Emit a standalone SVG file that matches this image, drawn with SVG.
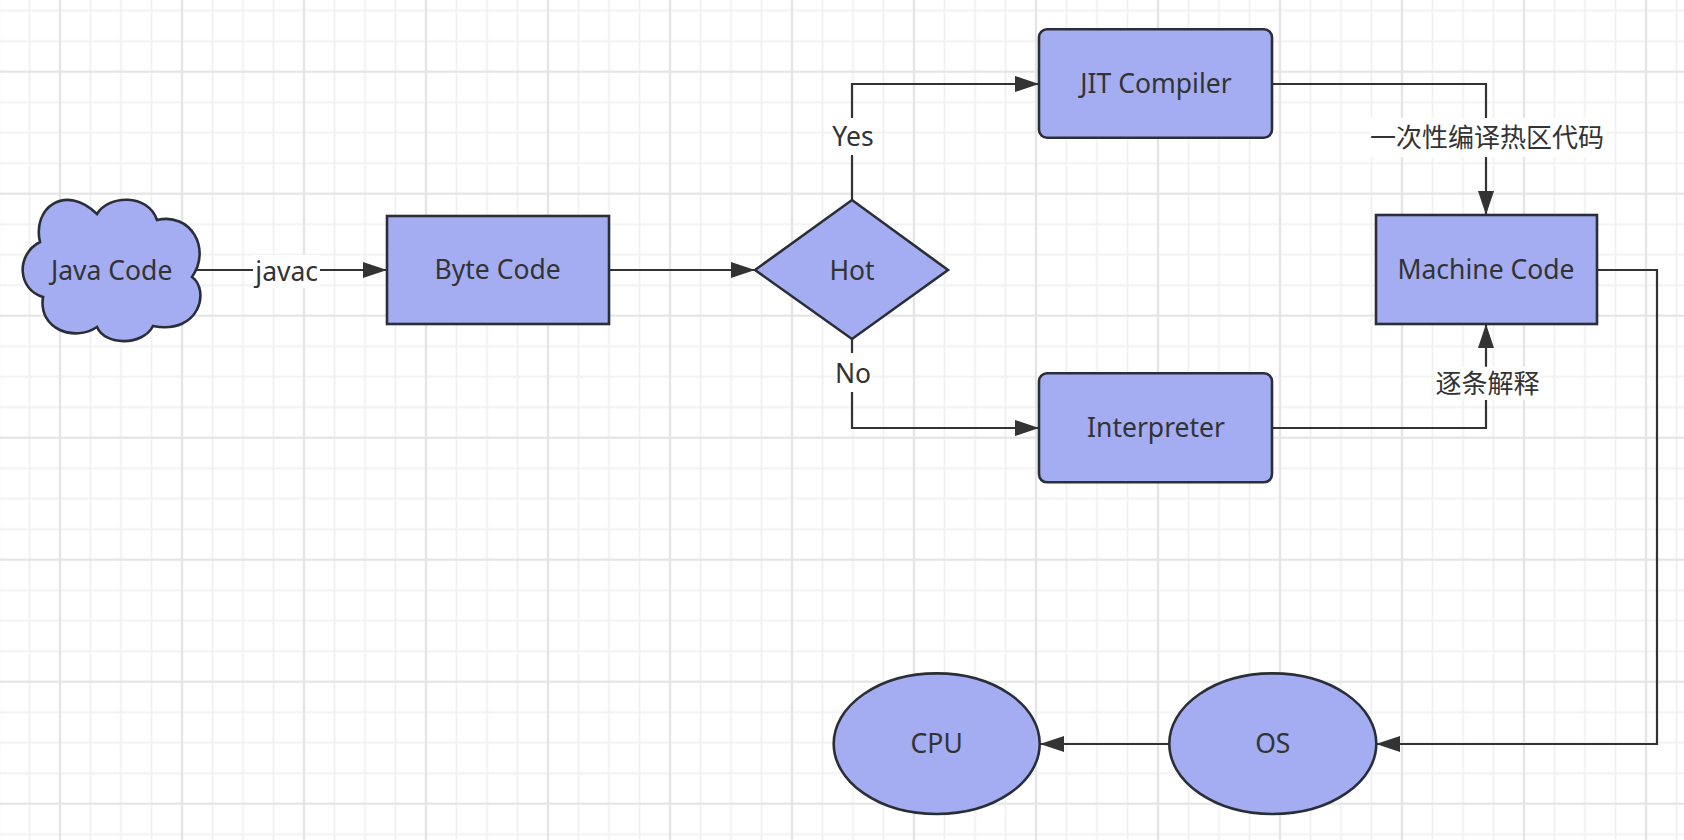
<svg xmlns="http://www.w3.org/2000/svg" width="1684" height="840" viewBox="0 0 1684 840">
  <defs>
    <!-- light grid: fine cells with a stronger line every fourth cell -->
    <pattern id="gridMinor" patternUnits="userSpaceOnUse" x="44.75" y="56.45" width="30.5" height="30.5">
      <line x1="15.25" y1="0" x2="15.25" y2="30.5" stroke="#f1f1f1" stroke-width="1.8"/>
      <line x1="0" y1="15.25" x2="30.5" y2="15.25" stroke="#f1f1f1" stroke-width="1.8"/>
    </pattern>
    <pattern id="gridMajor" patternUnits="userSpaceOnUse" x="-1" y="10.7" width="122" height="122">
      <line x1="61" y1="0" x2="61" y2="122" stroke="#e5e5e5" stroke-width="2.2"/>
      <line x1="0" y1="61" x2="122" y2="61" stroke="#e5e5e5" stroke-width="2.2"/>
    </pattern>
    <marker id="arrow" markerUnits="userSpaceOnUse" markerWidth="26" markerHeight="18" refX="24" refY="8" orient="auto">
      <path d="M0,0 L24,8 L0,16 Z" fill="#333333"/>
    </marker>
    <style>
      .shape { fill: #a4adf2; stroke: #2a2e36; stroke-width: 2.6; }
      .label { font-family: "Noto Sans", "Open Sans", "Noto Sans CJK SC", sans-serif; font-size: 26.5px; fill: #333333; text-anchor: middle; }
      .cjk { font-family: "Noto Sans CJK SC", "Noto Sans", sans-serif; font-size: 26px; fill: #333333; text-anchor: middle; }
      .edge { fill: none; stroke: #333333; stroke-width: 2.2; marker-end: url(#arrow); }
      .tag { fill: #ffffff; }
    </style>
  </defs>

  <rect x="0" y="0" width="1684" height="840" fill="#ffffff"/>
  <rect x="0" y="0" width="1684" height="840" fill="url(#gridMinor)"/>
  <rect x="0" y="0" width="1684" height="840" fill="url(#gridMajor)"/>

  <!-- connectors -->
  <g id="connectors">
    <path class="edge" d="M197,270 L387,270"/>
    <path class="edge" d="M609,270 L755,270"/>
    <path class="edge" d="M852,200 L852,84 L1039,84"/>
    <path class="edge" d="M852,339 L852,428 L1039,428"/>
    <path class="edge" d="M1272,84 L1486,84 L1486,215"/>
    <path class="edge" d="M1272,428 L1486,428 L1486,324"/>
    <path class="edge" d="M1597,270 L1657,270 L1657,744 L1376,744"/>
    <path class="edge" d="M1169,744 L1040,744"/>

    <rect class="tag" x="253" y="255" width="67" height="33"/>
    <text class="label" x="286.7" y="280.5">javac</text>

    <rect class="tag" x="833" y="118" width="40" height="37"/>
    <text class="label" x="853" y="145.7">Yes</text>

    <rect class="tag" x="836" y="353" width="36" height="39"/>
    <text class="label" x="853" y="383.3">No</text>

    <rect class="tag" x="1370" y="118" width="235" height="39"/>
    <text class="cjk" x="1487" y="147">一次性编译热区代码</text>

    <rect class="tag" x="1435" y="366.7" width="105" height="33.3"/>
    <text class="cjk" x="1487.5" y="393">逐条解释</text>
  </g>

  <g id="java-code">
    <path class="shape" d="M40,242 C32,208 65,183 97,214 C108,195 148,193 157,220 C190,212 212,248 192,277 C210,290 200,335 153,326 C143,346 105,346 97,327 C75,342 38,330 43,297 C18,290 15,255 40,242 Z"/>
    <text class="label" x="111.7" y="280">Java Code</text>
  </g>

  <g id="byte-code">
    <rect class="shape" x="387" y="216" width="222" height="108"/>
    <text class="label" x="497.6" y="279.3">Byte Code</text>
  </g>

  <g id="hot">
    <polygon class="shape" points="755,270 852,200 948,270 852,339"/>
    <text class="label" x="852" y="280">Hot</text>
  </g>

  <g id="jit-compiler">
    <rect class="shape" x="1039" y="29.3" width="233" height="108.4" rx="8" ry="8"/>
    <text class="label" x="1156" y="93">JIT Compiler</text>
  </g>

  <g id="interpreter">
    <rect class="shape" x="1039" y="373.3" width="233" height="109" rx="8" ry="8"/>
    <text class="label" x="1156" y="437.3">Interpreter</text>
  </g>

  <g id="machine-code">
    <rect class="shape" x="1376" y="215" width="221" height="109"/>
    <text class="label" x="1486" y="279">Machine Code</text>
  </g>

  <g id="os">
    <ellipse class="shape" cx="1272.8" cy="743.7" rx="103.5" ry="70.3"/>
    <text class="label" x="1272.8" y="753">OS</text>
  </g>

  <g id="cpu">
    <ellipse class="shape" cx="936.7" cy="743.7" rx="103" ry="70.3"/>
    <text class="label" x="936.7" y="753">CPU</text>
  </g>
</svg>
